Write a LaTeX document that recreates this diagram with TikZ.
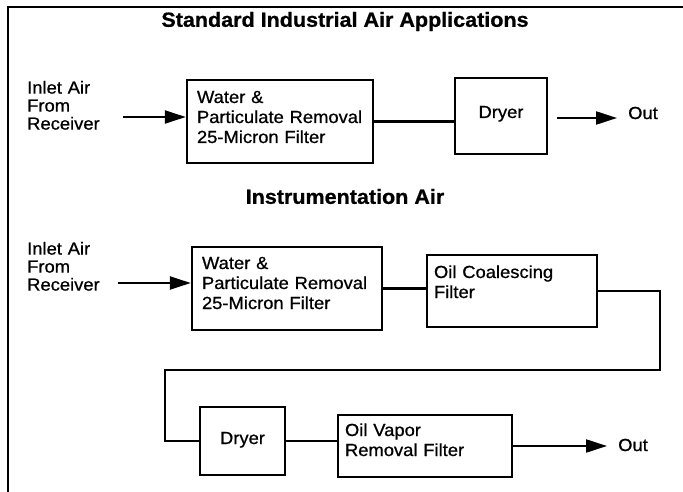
\documentclass[tikz,border=0pt]{standalone}
\usepackage{fontspec}
\setmainfont{Liberation Sans}[FakeStretch=1.05,FakeBold=0.8]
\usetikzlibrary{arrows.meta}

\begin{document}
\begin{tikzpicture}[x=1pt,y=-1pt,
  every node/.style={font=\fontsize{17.5}{20}\selectfont},
  unit/.style={draw,line width=2.4pt,inner ysep=0pt,align=left},
  heading/.style={font=\fontsize{20.5}{24}\selectfont\bfseries,inner sep=0pt},
  inlet/.style={inner sep=0pt,text width=90pt,align=left,anchor=north west,font=\fontsize{17.5}{18}\selectfont},
  pipe/.style={line width=2.2pt},
  flow/.style={line width=2.2pt,-{Triangle[length=21pt,width=13pt]}}]
\useasboundingbox (0,0) rectangle (683,492);
\draw[line width=2.4pt] (8,492) -- (8,7) -- (683,7);
\node[heading] (std) at (345,21.5) {Standard Industrial Air Applications};
\node[heading] (ins) at (345,196.5) {Instrumentation Air};
\node[inlet] (inl1) at (27,80.7) {Inlet Air\\From\\Receiver};
\node[inlet] (inl2) at (27,241.7) {Inlet Air\\From\\Receiver};
\node[unit,inner xsep=10pt,text width=166pt,text height=23pt,text depth=60pt] (wpr1) at (280,121.5) {Water \&\\Particulate Removal\\25-Micron Filter};
\node[unit,inner xsep=0pt,text width=92pt,align=center,text height=40pt,text depth=36pt] (dry1) at (501,116) {Dryer};
\node[unit,inner xsep=10pt,text width=170pt,text height=22pt,text depth=61pt] (wpr2) at (287,288.5) {Water \&\\Particulate Removal\\25-Micron Filter};
\node[unit,inner xsep=7pt,text width=156pt,text height=23pt,text depth=49pt] (coal) at (512,291) {Oil Coalescing\\Filter};
\node[unit,inner xsep=0pt,text width=85pt,align=center,text height=37pt,text depth=31pt] (dry2) at (242.5,441) {Dryer};
\node[unit,inner xsep=7pt,text width=160pt,text height=21pt,text depth=41pt] (vap) at (425,446) {Oil Vapor\\Removal Filter};
\node[inner sep=0pt,anchor=west] (out1) at (628,113) {Out};
\node[inner sep=0pt,anchor=west] (out2) at (618,445) {Out};
\coordinate (src1) at (123,117);
\coordinate (src2) at (118,283);
\coordinate (snk1) at (557,118);
\coordinate (bendR) at (660,370);
\coordinate (bendL) at (165,370);
\draw[flow] (src1) -- (src1 -| wpr1.west);
\draw[pipe] (wpr1.east) -- (wpr1.east -| dry1.west);
\draw[flow] (snk1) -- ([xshift=-11pt]out1.west |- snk1);
\draw[flow] (src2) -- (src2 -| wpr2.west);
\draw[pipe] (wpr2.east) -- (wpr2.east -| coal.west);
\draw[pipe] (coal.east) -| (bendR) -- (bendL) |- (dry2.west);
\draw[pipe] (dry2.east) -- (dry2.east -| vap.west);
\draw[flow] (vap.east) -- ([xshift=-11pt]out2.west |- vap.east);
\end{tikzpicture}
\end{document}
